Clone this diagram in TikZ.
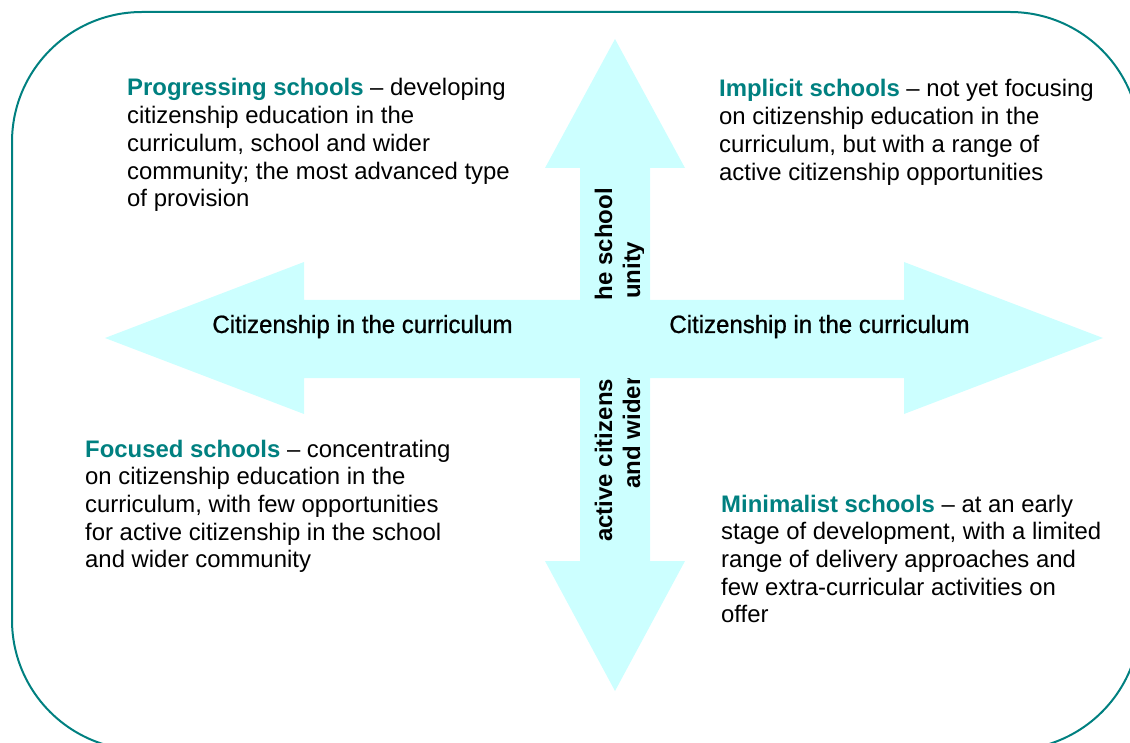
\documentclass[tikz,border=0pt]{standalone}
\usepackage{fontspec}
\setmainfont{Liberation Sans}
\newfontfamily\narrowfont[FakeStretch=0.96,FakeBold=0.8]{Liberation Sans}

\definecolor{schoolteal}{RGB}{0,128,128}
\definecolor{arrowcyan}{RGB}{204,255,255}

\newcommand{\kind}[1]{\textbf{\textcolor{schoolteal}{#1}}}

% multi-line nodes sit on the baseline of their last line
\tikzset{
  quadrant/.style={anchor=base west, align=left, inner sep=0pt,
    font=\fontsize{23.9}{27.7}\selectfont},
  axislabel/.style={anchor=base, inner sep=0pt,
    font=\narrowfont\fontsize{25}{30}\selectfont},
  sidelabel/.style={anchor=base, align=center, inner sep=0pt, rotate=90,
    font=\bfseries\fontsize{24}{28}\selectfont},
  blockarrow/.style={fill=arrowcyan, draw=none}
}

\begin{document}
\begin{tikzpicture}[x=1pt,y=-1pt]
  \useasboundingbox (0,0) rectangle (1130,743);
  \clip (0,0) rectangle (1130,743);

  % vertical arrow: school and community
  \coordinate (vtip) at (615,39);
  \coordinate (vend) at (615,691);
  \fill[blockarrow] (vtip) -- (685,168) -- (650,168) -- (650,561) -- (685,561)
    -- (vend) -- (545,561) -- (580,561) -- (580,168) -- (545,168) -- cycle;
  \begin{scope}
    \clip (580,168) rectangle (643,561);
    \node[sidelabel] (community) at (640,365)
      {active citizenship in the school\\and wider community};
  \end{scope}

  % horizontal arrow: curriculum
  \coordinate (htip) at (105,338);
  \coordinate (hend) at (1103,338);
  \fill[blockarrow] (htip) -- (304,262) -- (304,300) -- (904,300) -- (904,262)
    -- (hend) -- (904,414) -- (904,378) -- (304,378) -- (304,414) -- cycle;
  \node[axislabel] (currleft) at (362.5,333) {Citizenship in the curriculum};
  \node[axislabel] (currright) at (819.5,333) {Citizenship in the curriculum};

  % the four types of school
  \node[quadrant] (progressing) at (127,206.8)
    {\kind{Progressing schools} -- developing\\
     citizenship education in the\\
     curriculum, school and wider\\
     community; the most advanced type\\
     of provision};
  \node[quadrant] (implicit) at (719,180.1)
    {\kind{Implicit schools} -- not yet focusing\\
     on citizenship education in the\\
     curriculum, but with a range of\\
     active citizenship opportunities};
  \node[quadrant] (focused) at (85,567.8)
    {\kind{Focused schools} -- concentrating\\
     on citizenship education in the\\
     curriculum, with few opportunities\\
     for active citizenship in the school\\
     and wider community};
  \node[quadrant] (minimalist) at (721,622.8)
    {\kind{Minimalist schools} -- at an early\\
     stage of development, with a limited\\
     range of delivery approaches and\\
     few extra-curricular activities on\\
     offer};

  % frame
  \draw[schoolteal, line width=2pt, rounded corners=130pt] (12,12) rectangle (1140,750);
\end{tikzpicture}
\end{document}
